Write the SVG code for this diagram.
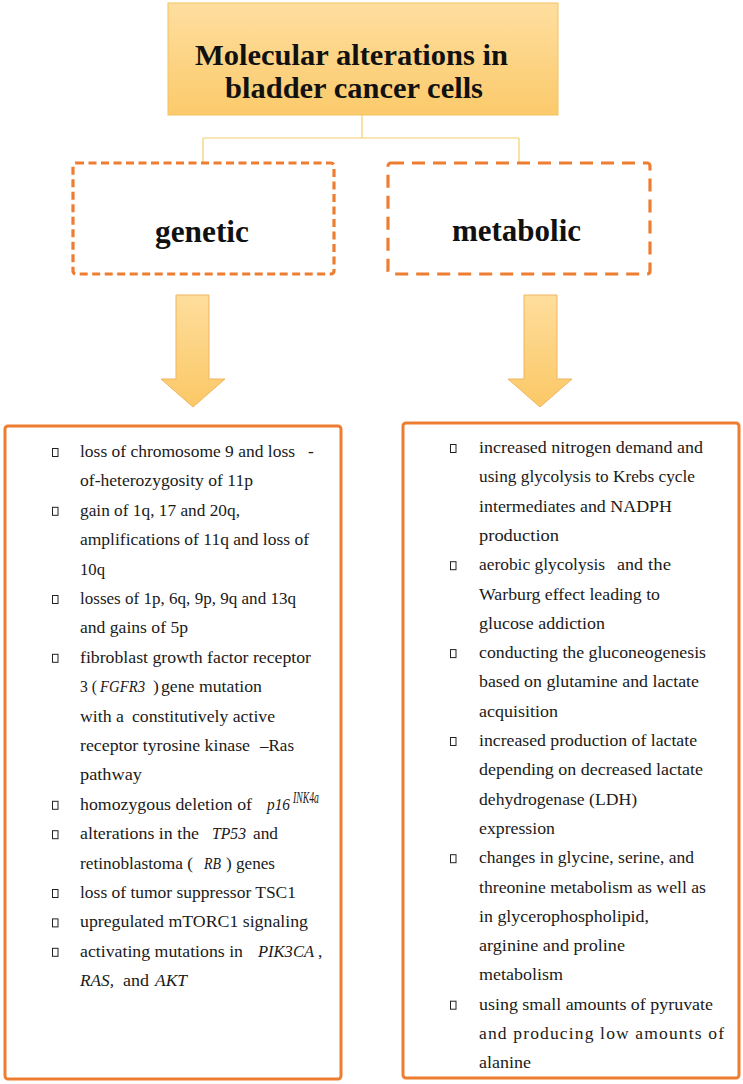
<svg xmlns="http://www.w3.org/2000/svg" width="743" height="1084" viewBox="0 0 743 1084">
<defs>
<linearGradient id="gTitle" x1="0" y1="0" x2="0" y2="1"><stop offset="0" stop-color="#FEDE9F"/><stop offset="1" stop-color="#FBCA6B"/></linearGradient>
<linearGradient id="gArrow" x1="0" y1="0" x2="0" y2="1"><stop offset="0" stop-color="#FEDD9C"/><stop offset="1" stop-color="#FBC866"/></linearGradient>
<style>
.t{font-family:"Liberation Serif","Times New Roman",serif;font-size:17.5px;fill:#1a1a1a}
.i{font-style:italic}
.h{font-family:"Liberation Serif","Times New Roman",serif;font-weight:bold;fill:#111}
.b{fill:none;stroke:#222;stroke-width:1}
.box{fill:#fff;stroke:#ED7D31;stroke-width:3}
.dash{fill:#fff;stroke:#ED7D31;stroke-width:3.2}
.conn{fill:none;stroke:#F3D068;stroke-width:1.2}
.arrow{fill:url(#gArrow);stroke:#F0B560;stroke-width:1}
</style>
</defs>
<rect width="743" height="1084" fill="#fff"/>
<g id="connectors">
<path class="conn" d="M362 115 V138 M203 138 H519 M203 138 V163 M519 138 V163"/>
<polygon class="arrow" points="176,295 209,295 209,379 225,379 193,407 161,379 176,379"/>
<polygon class="arrow" points="524,295 557,295 557,379 572,379 540,407 508,379 524,379"/>
</g>
<g id="title">
<rect x="168" y="3" width="390" height="112" fill="url(#gTitle)" stroke="#F2C45E" stroke-width="1"/>
<text class="h" font-size="29.5" x="195" y="65" textLength="313" lengthAdjust="spacingAndGlyphs">Molecular alterations in</text>
<text class="h" font-size="29.5" x="225" y="98" textLength="258" lengthAdjust="spacingAndGlyphs">bladder cancer cells</text>
</g>
<g id="genetic">
<rect class="dash" x="73" y="163" width="261" height="111" rx="3" stroke-dasharray="8 4.5"/>
<text class="h" font-size="31" x="155" y="242" textLength="94" lengthAdjust="spacingAndGlyphs">genetic</text>
</g>
<g id="metabolic">
<rect class="dash" x="388" y="163" width="262" height="111" rx="3" stroke-dasharray="13 8"/>
<text class="h" font-size="31" x="452" y="241" textLength="129" lengthAdjust="spacingAndGlyphs">metabolic</text>
</g>
<g id="genetic-list">
<rect class="box" x="5" y="426" width="336" height="653" rx="3"/>
<rect class="b" x="52.5" y="448.5" width="5.5" height="8"/>
<rect class="b" x="52.5" y="507.3" width="5.5" height="8"/>
<rect class="b" x="52.5" y="595.5" width="5.5" height="8"/>
<rect class="b" x="52.5" y="654.3" width="5.5" height="8"/>
<rect class="b" x="52.5" y="801.3" width="5.5" height="8"/>
<rect class="b" x="52.5" y="830.7" width="5.5" height="8"/>
<rect class="b" x="52.5" y="889.5" width="5.5" height="8"/>
<rect class="b" x="52.5" y="918.9" width="5.5" height="8"/>
<rect class="b" x="52.5" y="948.3" width="5.5" height="8"/>
<text class="t" x="80" y="457" textLength="215" lengthAdjust="spacingAndGlyphs">loss of chromosome 9 and loss</text>
<text class="t" x="308" y="457">-</text>
<text class="t" x="80" y="486.4" textLength="173" lengthAdjust="spacingAndGlyphs">of-heterozygosity of 11p</text>
<text class="t" x="80" y="515.8" textLength="160" lengthAdjust="spacingAndGlyphs">gain of 1q, 17 and 20q,</text>
<text class="t" x="80" y="545.2" textLength="229" lengthAdjust="spacingAndGlyphs">amplifications of 11q and loss of</text>
<text class="t" x="80" y="574.6" textLength="25" lengthAdjust="spacingAndGlyphs">10q</text>
<text class="t" x="80" y="604" textLength="216" lengthAdjust="spacingAndGlyphs">losses of 1p, 6q, 9p, 9q and 13q</text>
<text class="t" x="80" y="633.4" textLength="108" lengthAdjust="spacingAndGlyphs">and gains of 5p</text>
<text class="t" x="80" y="662.8" textLength="231" lengthAdjust="spacingAndGlyphs">fibroblast growth factor receptor</text>
<text class="t" y="692.2"><tspan x="80" textLength="17" lengthAdjust="spacingAndGlyphs">3 (</tspan><tspan class="i" x="100" textLength="45" lengthAdjust="spacingAndGlyphs">FGFR3</tspan><tspan x="153">)</tspan><tspan x="161" textLength="101" lengthAdjust="spacingAndGlyphs">gene mutation</tspan></text>
<text class="t" y="721.6"><tspan x="80" textLength="44" lengthAdjust="spacingAndGlyphs">with a</tspan><tspan x="132" textLength="143" lengthAdjust="spacingAndGlyphs">constitutively active</tspan></text>
<text class="t" y="751"><tspan x="80" textLength="170" lengthAdjust="spacingAndGlyphs">receptor tyrosine kinase</tspan><tspan x="260" textLength="34" lengthAdjust="spacingAndGlyphs">–Ras</tspan></text>
<text class="t" x="80" y="780.4" textLength="62" lengthAdjust="spacingAndGlyphs">pathway</text>
<text class="t" y="809.8"><tspan x="80" textLength="172" lengthAdjust="spacingAndGlyphs">homozygous deletion of</tspan><tspan class="i" x="267" textLength="23" lengthAdjust="spacingAndGlyphs">p16</tspan></text>
<text class="t i" x="293" y="803" font-size="10" textLength="26" lengthAdjust="spacingAndGlyphs">INK4a</text>
<text class="t" y="839.2"><tspan x="80" textLength="119" lengthAdjust="spacingAndGlyphs">alterations in the</tspan><tspan class="i" x="212" textLength="34" lengthAdjust="spacingAndGlyphs">TP53</tspan><tspan x="253" textLength="25" lengthAdjust="spacingAndGlyphs">and</tspan></text>
<text class="t" y="868.6"><tspan x="80" textLength="113" lengthAdjust="spacingAndGlyphs">retinoblastoma (</tspan><tspan class="i" x="204" textLength="17" lengthAdjust="spacingAndGlyphs">RB</tspan><tspan x="226" textLength="49" lengthAdjust="spacingAndGlyphs">) genes</tspan></text>
<text class="t" x="80" y="898" textLength="216" lengthAdjust="spacingAndGlyphs">loss of tumor suppressor TSC1</text>
<text class="t" x="80" y="927.4" textLength="228" lengthAdjust="spacingAndGlyphs">upregulated mTORC1 signaling</text>
<text class="t" y="956.8"><tspan x="80" textLength="163" lengthAdjust="spacingAndGlyphs">activating mutations in</tspan><tspan class="i" x="258" textLength="56" lengthAdjust="spacingAndGlyphs">PIK3CA</tspan><tspan x="318">,</tspan></text>
<text class="t" y="986.2"><tspan class="i" x="80" textLength="34" lengthAdjust="spacingAndGlyphs">RAS,</tspan><tspan x="123" textLength="26" lengthAdjust="spacingAndGlyphs">and</tspan><tspan class="i" x="155" textLength="32" lengthAdjust="spacingAndGlyphs">AKT</tspan></text>
</g>
<g id="metabolic-list">
<rect class="box" x="403" y="423" width="336" height="655" rx="3"/>
<rect class="b" x="450.5" y="444.5" width="5.5" height="8"/>
<rect class="b" x="450.5" y="561.7" width="5.5" height="8"/>
<rect class="b" x="450.5" y="649.6" width="5.5" height="8"/>
<rect class="b" x="450.5" y="737.5" width="5.5" height="8"/>
<rect class="b" x="450.5" y="854.7" width="5.5" height="8"/>
<rect class="b" x="450.5" y="1001.2" width="5.5" height="8"/>
<text class="t" x="479" y="453" textLength="224" lengthAdjust="spacingAndGlyphs">increased nitrogen demand and</text>
<text class="t" x="479" y="482.3" textLength="216" lengthAdjust="spacingAndGlyphs">using glycolysis to Krebs cycle</text>
<text class="t" x="479" y="511.6" textLength="193" lengthAdjust="spacingAndGlyphs">intermediates and NADPH</text>
<text class="t" x="479" y="540.9" textLength="80" lengthAdjust="spacingAndGlyphs">production</text>
<text class="t" y="570.2"><tspan x="479" textLength="126" lengthAdjust="spacingAndGlyphs">aerobic glycolysis</tspan><tspan x="617" textLength="26" lengthAdjust="spacingAndGlyphs">and</tspan><tspan x="648" textLength="23" lengthAdjust="spacingAndGlyphs">the</tspan></text>
<text class="t" x="479" y="599.5" textLength="181" lengthAdjust="spacingAndGlyphs">Warburg effect leading to</text>
<text class="t" x="479" y="628.8" textLength="126" lengthAdjust="spacingAndGlyphs">glucose addiction</text>
<text class="t" x="479" y="658.1" textLength="227" lengthAdjust="spacingAndGlyphs">conducting the gluconeogenesis</text>
<text class="t" x="479" y="687.4" textLength="220" lengthAdjust="spacingAndGlyphs">based on glutamine and lactate</text>
<text class="t" x="479" y="716.7" textLength="79" lengthAdjust="spacingAndGlyphs">acquisition</text>
<text class="t" x="479" y="746" textLength="218" lengthAdjust="spacingAndGlyphs">increased production of lactate</text>
<text class="t" x="479" y="775.3" textLength="224" lengthAdjust="spacingAndGlyphs">depending on decreased lactate</text>
<text class="t" x="479" y="804.6" textLength="158" lengthAdjust="spacingAndGlyphs">dehydrogenase (LDH)</text>
<text class="t" x="479" y="833.9" textLength="76" lengthAdjust="spacingAndGlyphs">expression</text>
<text class="t" x="479" y="863.2" textLength="215" lengthAdjust="spacingAndGlyphs">changes in glycine, serine, and</text>
<text class="t" x="479" y="892.5" textLength="227" lengthAdjust="spacingAndGlyphs">threonine metabolism as well as</text>
<text class="t" x="479" y="921.8" textLength="170" lengthAdjust="spacingAndGlyphs">in glycerophospholipid,</text>
<text class="t" x="479" y="951.1" textLength="146" lengthAdjust="spacingAndGlyphs">arginine and proline</text>
<text class="t" x="479" y="980.4" textLength="84" lengthAdjust="spacingAndGlyphs">metabolism</text>
<text class="t" x="479" y="1009.7" textLength="234" lengthAdjust="spacingAndGlyphs">using small amounts of pyruvate</text>
<text class="t" x="479" y="1039" textLength="245" lengthAdjust="spacing">and  producing  low  amounts  of</text>
<text class="t" x="479" y="1068.3" textLength="52" lengthAdjust="spacingAndGlyphs">alanine</text>
</g>
</svg>
